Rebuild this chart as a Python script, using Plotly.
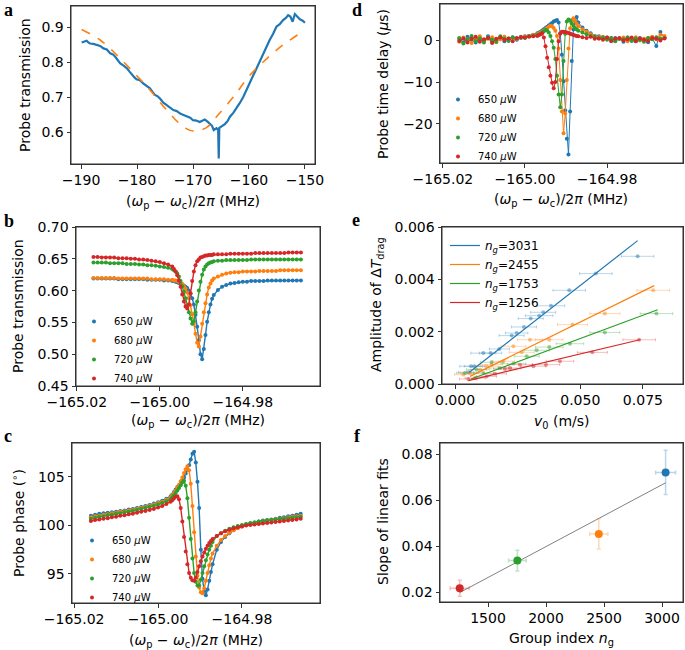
import plotly.graph_objects as go

W, H = 685, 650
FONT = "DejaVu Sans"
COLORS = ["#1f77b4", "#ff7f0e", "#2ca02c", "#d62728"]
POWERS = ["650", "680", "720", "740"]

# ---------------- panel a: wide scan
a_freq = [-189.9, -189.5, -189.0, -188.7, -188.4, -187.8, -187.2, -186.6, -186.0, -185.4,
          -184.8, -184.3, -183.9, -183.4, -183.0, -182.4, -181.8, -181.3, -180.9, -180.5,
          -180.1, -179.5, -178.9, -178.3, -177.7, -177.2, -176.8, -176.3, -175.9, -175.3,
          -174.7, -174.1, -173.5, -172.9, -172.3, -171.7, -171.1, -170.5, -170.0, -169.4,
          -168.8, -168.3, -167.9, -167.4, -167.0, -166.6, -166.3, -165.8, -165.5, -165.4,
          -165.3, -165.2, -164.8, -164.3, -163.8, -163.4, -162.8, -162.2, -161.6, -161.0,
          -160.4, -159.8, -159.2, -158.6, -158.0, -157.4, -156.8, -156.3, -155.7, -155.1,
          -154.5, -153.9, -153.4, -153.0, -152.6, -152.2, -151.8, -151.3, -150.9, -150.4, -150.0]
a_trans = [0.856, 0.859, 0.861, 0.856, 0.853, 0.852, 0.849, 0.846, 0.839, 0.836,
           0.825, 0.822, 0.815, 0.806, 0.796, 0.790, 0.782, 0.772, 0.763, 0.757,
           0.751, 0.748, 0.739, 0.733, 0.725, 0.714, 0.706, 0.702, 0.696, 0.684,
           0.677, 0.669, 0.663, 0.660, 0.653, 0.649, 0.644, 0.641, 0.634, 0.633,
           0.629, 0.632, 0.636, 0.630, 0.625, 0.618, 0.606, 0.611, 0.606, 0.525,
           0.612, 0.613, 0.617, 0.623, 0.632, 0.644, 0.655, 0.668, 0.684, 0.701,
           0.722, 0.744, 0.766, 0.787, 0.808, 0.829, 0.848, 0.863, 0.880, 0.901,
           0.908, 0.920, 0.926, 0.934, 0.930, 0.915, 0.937, 0.930, 0.922, 0.918, 0.912]
a_fit_freq = [-189.9, -186.6, -183.6, -180.7, -177.7, -174.7, -171.7, -169.9,
              -167.6, -165.8, -162.8, -159.8, -156.8, -153.9, -150.0]
a_fit = [0.893, 0.863, 0.820, 0.772, 0.720, 0.663, 0.615, 0.603,
         0.613, 0.644, 0.700, 0.763, 0.810, 0.849, 0.891]

# ---------------- panels b, c, d: narrow scans (MHz)
scan_freq = [-165.016, -165.015, -165.014, -165.013, -165.012, -165.011, -165.010, -165.009, -165.008, -165.007,
             -165.006, -165.005, -165.004, -165.003, -165.002, -165.001, -165.000, -164.999, -164.998, -164.997,
             -164.9966, -164.9962, -164.9958, -164.9954, -164.9950, -164.9946, -164.9942, -164.9938, -164.9934,
             -164.9930, -164.9926, -164.9922, -164.9918, -164.9914, -164.9910, -164.9906, -164.9902, -164.9898,
             -164.9894, -164.9890, -164.9886, -164.9882, -164.9878, -164.9874, -164.9870,
             -164.986, -164.985, -164.984, -164.983, -164.982, -164.981, -164.980, -164.979, -164.978, -164.977,
             -164.976, -164.975, -164.974, -164.973, -164.972, -164.971, -164.970, -164.969, -164.968, -164.967, -164.966]

trans_650 = [0.619, 0.619, 0.619, 0.619, 0.619, 0.619, 0.618, 0.618, 0.618, 0.618, 0.618, 0.618, 0.618, 0.617, 0.617, 0.617, 0.617, 0.616, 0.616, 0.615,
             0.615, 0.614, 0.613, 0.612, 0.611, 0.610, 0.608, 0.606, 0.604, 0.600, 0.595, 0.588, 0.578, 0.562, 0.543, 0.522, 0.500, 0.492, 0.508, 0.530, 0.551, 0.566, 0.578, 0.587, 0.593,
             0.601, 0.606, 0.609, 0.611, 0.612, 0.613, 0.614, 0.614, 0.615, 0.615, 0.615, 0.615, 0.616, 0.616, 0.616, 0.616, 0.616, 0.616, 0.616, 0.616, 0.616]
trans_680 = [0.620, 0.620, 0.620, 0.620, 0.620, 0.620, 0.619, 0.619, 0.619, 0.619, 0.619, 0.619, 0.619, 0.619, 0.618, 0.618, 0.618, 0.618, 0.617, 0.617,
             0.616, 0.616, 0.615, 0.614, 0.612, 0.610, 0.607, 0.603, 0.597, 0.588, 0.577, 0.563, 0.548, 0.532, 0.518, 0.512, 0.528, 0.548, 0.566, 0.580, 0.594, 0.605, 0.611, 0.616, 0.619,
             0.622, 0.625, 0.627, 0.628, 0.629, 0.629, 0.630, 0.630, 0.630, 0.630, 0.631, 0.631, 0.631, 0.631, 0.631, 0.632, 0.632, 0.632, 0.632, 0.632, 0.632]
trans_720 = [0.644, 0.644, 0.644, 0.644, 0.643, 0.643, 0.643, 0.643, 0.642, 0.642, 0.642, 0.641, 0.641, 0.640, 0.640, 0.639, 0.638, 0.637, 0.636, 0.634,
             0.632, 0.630, 0.627, 0.622, 0.615, 0.607, 0.598, 0.588, 0.577, 0.566, 0.556, 0.548, 0.552, 0.566, 0.583, 0.600, 0.614, 0.625, 0.633, 0.638, 0.641, 0.643, 0.644, 0.645, 0.646,
             0.647, 0.647, 0.648, 0.648, 0.648, 0.648, 0.648, 0.648, 0.649, 0.649, 0.649, 0.649, 0.649, 0.649, 0.649, 0.649, 0.649, 0.649, 0.649, 0.649, 0.649]
trans_740 = [0.653, 0.653, 0.652, 0.652, 0.652, 0.652, 0.651, 0.651, 0.651, 0.650, 0.650, 0.649, 0.649, 0.648, 0.647, 0.646, 0.645, 0.643, 0.641, 0.638,
             0.634, 0.630, 0.624, 0.616, 0.606, 0.594, 0.583, 0.575, 0.572, 0.578, 0.596, 0.615, 0.630, 0.640, 0.646, 0.649, 0.652, 0.653, 0.654, 0.655, 0.655, 0.656, 0.656, 0.656, 0.657,
             0.657, 0.657, 0.657, 0.658, 0.658, 0.658, 0.658, 0.658, 0.658, 0.659, 0.659, 0.659, 0.659, 0.659, 0.659, 0.659, 0.659, 0.660, 0.660, 0.660, 0.660]

phase_650 = [101.0, 101.1, 101.2, 101.25, 101.3, 101.35, 101.4, 101.5, 101.55, 101.65, 101.7, 101.8, 101.9, 102.0, 102.1, 102.25, 102.4, 102.55, 102.75, 103.0,
             103.2, 103.45, 103.7, 103.95, 104.1, 104.3, 104.6, 104.95, 105.35, 105.75, 106.2, 106.8, 107.4, 107.6, 106.5, 104.5, 101.8, 97.5, 94.5, 93.2, 92.8, 93.4, 94.3, 95.2, 96.0,
             97.5, 98.3, 98.8, 99.2, 99.5, 99.75, 99.95, 100.1, 100.2, 100.3, 100.4, 100.5, 100.55, 100.6, 100.7, 100.8, 100.85, 100.95, 101.0, 101.1, 101.2]
phase_680 = [100.85, 100.95, 101.0, 101.1, 101.15, 101.25, 101.3, 101.4, 101.45, 101.55, 101.6, 101.7, 101.8, 101.9, 102.0, 102.15, 102.3, 102.45, 102.65, 102.9,
             103.1, 103.35, 103.6, 103.9, 104.2, 104.55, 104.95, 105.4, 105.8, 106.1, 105.7, 104.3, 102.0, 99.3, 96.8, 94.8, 93.6, 93.1, 93.0, 93.5, 94.3, 95.1, 95.9, 96.6, 97.1,
             97.9, 98.5, 98.9, 99.25, 99.5, 99.7, 99.9, 100.05, 100.15, 100.25, 100.35, 100.45, 100.5, 100.55, 100.65, 100.7, 100.75, 100.85, 100.9, 100.95, 101.0]
phase_720 = [100.7, 100.8, 100.9, 100.95, 101.05, 101.1, 101.2, 101.25, 101.35, 101.4, 101.5, 101.6, 101.7, 101.8, 101.9, 102.0, 102.15, 102.3, 102.5, 102.7,
             102.9, 103.1, 103.35, 103.6, 103.85, 104.15, 104.45, 104.6, 104.1, 102.8, 100.8, 98.6, 96.6, 95.1, 94.2, 93.8, 93.8, 94.4, 95.1, 95.8, 96.4, 97.0, 97.5, 97.9, 98.3,
             98.9, 99.2, 99.45, 99.65, 99.8, 99.95, 100.05, 100.15, 100.25, 100.3, 100.4, 100.45, 100.5, 100.55, 100.6, 100.65, 100.7, 100.75, 100.8, 100.85, 100.9]
phase_740 = [100.45, 100.55, 100.6, 100.7, 100.75, 100.85, 100.9, 101.0, 101.05, 101.15, 101.2, 101.3, 101.4, 101.5, 101.6, 101.7, 101.85, 102.0, 102.2, 102.45,
             102.6, 102.8, 102.95, 103.0, 102.7, 101.8, 100.4, 98.8, 97.3, 96.0, 95.1, 94.6, 94.35, 94.3, 94.6, 95.2, 95.8, 96.3, 96.8, 97.2, 97.6, 97.9, 98.2, 98.4, 98.6,
             98.9, 99.2, 99.4, 99.55, 99.7, 99.8, 99.9, 100.0, 100.05, 100.1, 100.15, 100.2, 100.25, 100.3, 100.35, 100.4, 100.45, 100.5, 100.55, 100.6, 100.7]

delay_650 = [0.3, -0.5, 0.8, 0.1, -0.6, 0.5, -0.2, 0.9, -0.4, 0.2, 0.6, -0.3, 0.4, 0.7, 0.1, 0.5, 0.9, 1.0, 1.3, 1.6,
             1.8, 2.0, 2.3, 2.6, 2.9, 3.2, 3.5, 3.8, 4.1, 4.4, 4.6, 4.8, 4.2, 1.6, -3.5, -9.8, -16.7, -23.5, -27.3, -17.0, -5.0, 2.5, 4.6, 5.5, 4.2,
             3.0, 2.2, 1.6, 1.0, 0.9, 0.4, 0.6, -0.2, 0.5, 0.3, -0.4, 0.6, 0.1, -0.3, 0.5, 0.2, -0.5, 0.4, -1.4, 1.9, 0.6]
delay_680 = [-0.4, 0.6, 0.2, -0.7, 0.4, 0.9, -0.3, 0.3, 0.7, -0.5, 0.2, 0.8, 0.1, 0.5, 0.3, 0.6, 0.8, 1.0, 1.2, 1.4,
             1.6, 1.8, 2.0, 2.3, 2.6, 2.9, 3.2, 3.4, 3.3, 2.9, 2.2, 1.0, -2.0, -9.5, -17.0, -22.2, -17.5, -9.5, -2.0, 2.8, 4.8, 5.2, 4.6, 3.9, 3.3,
             2.6, 2.0, 1.4, 1.0, 0.7, 0.8, 0.3, 0.5, -0.2, 0.4, 0.6, -0.3, 0.2, 0.7, -0.1, 0.3, 0.5, 0.8, 0.2, 1.3, 1.0]
delay_720 = [0.5, -0.8, 0.2, 1.0, -0.3, 0.4, -0.6, 0.7, 0.1, -0.4, 0.9, 0.3, -0.2, 0.6, 0.4, 0.8, 0.5, 0.9, 1.0, 1.2,
             1.3, 1.5, 1.8, 2.1, 2.4, 2.3, 1.8, 1.0, -0.3, -1.8, -4.5, -8.5, -13.0, -16.0, -13.0, -5.0, 1.5, 4.4, 4.9, 4.6, 4.0, 3.4, 2.9, 2.5, 2.2,
             1.8, 1.4, 1.0, 0.8, 0.4, 0.6, 0.1, 0.5, -0.3, 0.3, 0.2, 0.6, -0.2, 0.4, 0.1, -0.4, 0.5, 0.2, 0.7, 0.3, 0.5]
delay_740 = [-0.2, 0.4, -0.6, 0.3, 0.8, -0.4, 0.2, 0.5, -0.7, 0.3, 0.6, 0.0, 0.4, -0.3, 0.5, 0.7, 0.6, 0.8, 0.9, 1.0,
             1.2, 1.4, 1.6, 0.6, -1.5, -4.2, -6.5, -8.5, -10.2, -11.5, -10.0, -4.5, -0.3, 1.5, 2.0, 2.0, 1.9, 1.8, 1.7, 1.5, 1.4, 1.2, 1.1, 1.0, 0.9,
             0.7, 0.5, 0.8, 0.3, 0.4, 0.1, 0.6, -0.2, 0.3, 0.5, -0.1, 0.2, 0.6, -0.3, 0.4, 0.1, -0.2, 0.5, 0.3, -0.1, 0.4]

# ---------------- panel e: drag amplitude vs velocity
e_ng = ["3031", "2455", "1753", "1256"]
e_v = [
    [0.0053, 0.0064, 0.0077, 0.0113, 0.0142, 0.0177, 0.0226, 0.0246, 0.0275, 0.0302, 0.0336, 0.0352, 0.0383, 0.0456, 0.0562, 0.0729],
    [0.0033, 0.0060, 0.0100, 0.0126, 0.0146, 0.0193, 0.0233, 0.0266, 0.0299, 0.0376, 0.0469, 0.0598, 0.0791],
    [0.0040, 0.0086, 0.0113, 0.0146, 0.0180, 0.0233, 0.0286, 0.0326, 0.0376, 0.0459, 0.0598, 0.0804],
    [0.0053, 0.0080, 0.0126, 0.0160, 0.0199, 0.0219, 0.0259, 0.0313, 0.0363, 0.0419, 0.0548, 0.0735],
]
e_amp = [
    [0.00045, 0.00068, 0.00068, 0.00118, 0.00118, 0.00134, 0.00185, 0.00195, 0.00218, 0.00250, 0.00261, 0.00274, 0.00299, 0.00358, 0.00422, 0.00488],
    [0.00036, 0.00042, 0.00055, 0.00068, 0.00074, 0.00087, 0.00144, 0.00121, 0.00169, 0.00169, 0.00227, 0.00269, 0.00358],
    [0.00042, 0.00055, 0.00042, 0.00083, 0.00061, 0.00078, 0.00106, 0.00129, 0.00141, 0.00154, 0.00197, 0.00269],
    [0.00019, 0.00023, 0.00029, 0.00039, 0.00057, 0.00061, 0.00074, 0.00068, 0.00074, 0.00087, 0.00121, 0.00169],
]
e_verr = [
    [0.0040, 0.0045, 0.0040, 0.0050, 0.0045, 0.0040, 0.0050, 0.0045, 0.0050, 0.0050, 0.0055, 0.0050, 0.0055, 0.0065, 0.0065, 0.0065],
    [0.0035, 0.0040, 0.0040, 0.0045, 0.0045, 0.0045, 0.0050, 0.0050, 0.0050, 0.0055, 0.0060, 0.0060, 0.0065],
    [0.0035, 0.0040, 0.0040, 0.0045, 0.0045, 0.0050, 0.0050, 0.0050, 0.0055, 0.0055, 0.0060, 0.0065],
    [0.0035, 0.0040, 0.0040, 0.0045, 0.0045, 0.0045, 0.0050, 0.0050, 0.0055, 0.0055, 0.0060, 0.0065],
]
e_fit_v = [[0.0057, 0.0729], [0.0060, 0.0795], [0.0064, 0.0809], [0.0053, 0.0738]]
e_fit_amp = [[0.00045, 0.00548], [0.00029, 0.00376], [0.00019, 0.00284], [0.00013, 0.00169]]

# ---------------- panel f: slopes vs group index
f_ng = [3031, 2455, 1753, 1256]
f_ng_err = [86, 78, 76, 82]
f_slope = [0.0720, 0.0453, 0.0337, 0.0217]
f_slope_err = [0.0096, 0.0066, 0.0045, 0.0035]
f_fit_ng = [1256, 3031]
f_fit_slope = [0.0198, 0.0675]

MINUS = "\u2212"
freq_ticks = [-165.02, -165.00, -164.98]
freq_ticktext = [MINUS + "165.02", MINUS + "165.00", MINUS + "164.98"]

# panel layout: pixel box (left, right, top, bottom), axis ranges and ticks
panel_cfg = {
    "": dict(box=(71, 315, 6, 164), xr=[-191.8, -148.2], yr=[0.509, 0.96],
             xt=[-190, -180, -170, -160, -150],
             xtt=[MINUS + "190", MINUS + "180", MINUS + "170", MINUS + "160", MINUS + "150"],
             yt=[0.6, 0.7, 0.8, 0.9], ytt=["0.6", "0.7", "0.8", "0.9"]),
    "2": dict(box=(76, 320, 227, 386), xr=[-165.0202, -164.9614], yr=[0.45, 0.70],
              xt=freq_ticks, xtt=freq_ticktext,
              yt=[0.45, 0.50, 0.55, 0.60, 0.65, 0.70], ytt=["0.45", "0.50", "0.55", "0.60", "0.65", "0.70"]),
    "3": dict(box=(72, 320, 443, 603), xr=[-165.0205, -164.9614], yr=[92.0, 108.5],
              xt=freq_ticks, xtt=freq_ticktext, yt=[95, 100, 105], ytt=["95", "100", "105"]),
    "4": dict(box=(440, 683, 4, 163), xr=[-165.0207, -164.9615], yr=[-29.3, 8.6],
              xt=freq_ticks, xtt=freq_ticktext, yt=[-20, -10, 0], ytt=[MINUS + "20", MINUS + "10", "0"]),
    "5": dict(box=(442, 683, 227, 384), xr=[-0.0052, 0.091], yr=[0, 0.006],
              xt=[0, 0.025, 0.05, 0.075], xtt=["0.000", "0.025", "0.050", "0.075"],
              yt=[0, 0.002, 0.004, 0.006], ytt=["0.000", "0.002", "0.004", "0.006"]),
    "6": dict(box=(440, 683, 443, 602), xr=[1086, 3181], yr=[0.0157, 0.0848],
              xt=[1500, 2000, 2500, 3000], xtt=["1500", "2000", "2500", "3000"],
              yt=[0.02, 0.04, 0.06, 0.08], ytt=["0.02", "0.04", "0.06", "0.08"]),
}
FRAME = "#333333"
TICK_PX = 3.5


def rgba(hex_color, alpha):
    h = hex_color.lstrip("#")
    return "rgba({},{},{},{})".format(int(h[0:2], 16), int(h[2:4], 16), int(h[4:6], 16), alpha)


fig = go.Figure()

# a
fig.add_trace(go.Scatter(x=a_freq, y=a_trans, mode="lines", line=dict(color=COLORS[0], width=2.2),
                         showlegend=False, xaxis="x", yaxis="y"))
fig.add_trace(go.Scatter(x=a_fit_freq, y=a_fit, mode="lines", line=dict(color=COLORS[1], width=1.6, dash="dash", shape="spline"),
                         showlegend=False, xaxis="x", yaxis="y"))

# b, c, d
panels = [("x2", "y2", "legend", [trans_650, trans_680, trans_720, trans_740], 1.4),
          ("x3", "y3", "legend2", [phase_650, phase_680, phase_720, phase_740], 1.4),
          ("x4", "y4", "legend3", [delay_650, delay_680, delay_720, delay_740], 1.0)]
for xa, ya, leg, series, lw in panels:
    for i, vals in enumerate(series):
        fig.add_trace(go.Scatter(x=scan_freq, y=vals, mode="lines", line=dict(color=COLORS[i], width=lw),
                                 showlegend=False, xaxis=xa, yaxis=ya))
        fig.add_trace(go.Scatter(x=scan_freq, y=vals, mode="markers", marker=dict(color=COLORS[i], size=4),
                                 name=POWERS[i] + " <i>\u03bc</i>W", legend=leg, xaxis=xa, yaxis=ya))

# e
for i in range(4):
    fig.add_trace(go.Scatter(x=e_v[i], y=e_amp[i], mode="markers",
                             marker=dict(color=rgba(COLORS[i], 0.5), size=4),
                             error_x=dict(type="data", array=e_verr[i], color=rgba(COLORS[i], 0.3), thickness=1, width=1.5),
                             showlegend=False, xaxis="x5", yaxis="y5"))
for i in range(4):
    fig.add_trace(go.Scatter(x=e_fit_v[i], y=e_fit_amp[i], mode="lines", line=dict(color=COLORS[i], width=1.2),
                             name="<i>n<sub>g</sub></i>=" + e_ng[i], legend="legend4", xaxis="x5", yaxis="y5"))

# f
fig.add_trace(go.Scatter(x=f_fit_ng, y=f_fit_slope, mode="lines", line=dict(color="gray", width=1),
                         showlegend=False, xaxis="x6", yaxis="y6"))
for i in range(4):
    fig.add_trace(go.Scatter(x=[f_ng[i]], y=[f_slope[i]], mode="markers", marker=dict(color=COLORS[i], size=8),
                             error_x=dict(type="data", array=[f_ng_err[i]], color=rgba(COLORS[i], 0.3), thickness=1.5, width=2),
                             error_y=dict(type="data", array=[f_slope_err[i]], color=rgba(COLORS[i], 0.3), thickness=1.5, width=2),
                             showlegend=False, xaxis="x6", yaxis="y6"))

# axes: tick labels from plotly; each panel's frame and tick marks drawn on its own axes
axes = {}
for k, cfg in panel_cfg.items():
    left, right, top, bottom = cfg["box"]
    common = dict(showline=True, linecolor=FRAME, linewidth=1, mirror=True, ticks="outside",
                  ticklen=TICK_PX, tickwidth=1, tickcolor=FRAME, showgrid=False, zeroline=False,
                  automargin=False, tickfont=dict(size=14, color="black", family=FONT))
    axes["xaxis" + k] = dict(domain=[left / W, right / W], anchor="y" + k, range=cfg["xr"],
                             tickvals=cfg["xt"], ticktext=cfg["xtt"], **common)
    axes["yaxis" + k] = dict(domain=[1 - bottom / H, 1 - top / H], anchor="x" + k, range=cfg["yr"],
                             tickvals=cfg["yt"], ticktext=cfg["ytt"], **common)
    xr, yr = cfg["xr"], cfg["yr"]
    dx = TICK_PX / (right - left) * (xr[1] - xr[0])
    dy = TICK_PX / (bottom - top) * (yr[1] - yr[0])
    fx = [xr[0], xr[1], xr[1], xr[0], xr[0], None]
    fy = [yr[0], yr[0], yr[1], yr[1], yr[0], None]
    for v in cfg["xt"]:
        fx += [v, v, None]
        fy += [yr[0], yr[0] - dy, None]
    for v in cfg["yt"]:
        fx += [xr[0], xr[0] - dx, None]
        fy += [v, v, None]
    fig.add_trace(go.Scatter(x=fx, y=fy, mode="lines", line=dict(color=FRAME, width=1), cliponaxis=False,
                             hoverinfo="skip", showlegend=False, xaxis="x" + k, yaxis="y" + k))


def leg_box(px_x, px_y, size):
    return dict(x=px_x / W, y=1 - px_y / H, xanchor="left", yanchor="top", bgcolor="rgba(0,0,0,0)",
                font=dict(size=size, family=FONT, color="black"), tracegroupgap=0)


def note(text, px_x, px_y, angle=0, size=14, xanchor="center", family=FONT):
    return dict(text=text, x=px_x / W, y=1 - px_y / H, xref="paper", yref="paper", showarrow=False,
                textangle=angle, xanchor=xanchor, yanchor="middle", font=dict(size=size, family=family, color="black"))


freq_title = "(<i>\u03c9</i><sub>p</sub> " + MINUS + " <i>\u03c9</i><sub>c</sub>)/2<i>\u03c0</i> (MHz)"
annotations = [
    note(freq_title, 193, 202),
    note(freq_title, 198, 421),
    note(freq_title, 196, 641),
    note(freq_title, 561, 200),
    note("<i>v</i><sub>0</sub> (m/s)", 562, 422),
    note("Group index <i>n</i><sub>g</sub>", 561, 639),
    note("Probe transmission", 25, 85, -90),
    note("Probe transmission", 18, 306, -90),
    note("Probe phase (<sup>\u2218</sup>)", 18, 523, -90),
    note("Probe time delay (<i>\u03bc</i>s)", 383, 84, -90),
    note("Amplitude of \u0394<i>T</i><sub>drag</sub>", 377, 305, -90),
    note("Slope of linear fits", 383, 522, -90),
]
for letter, lx, ly in [("a", 2, 10), ("b", 2, 221), ("c", 2, 436), ("d", 350, 10), ("e", 350, 220), ("f", 352, 436)]:
    annotations.append(note("<b>" + letter + "</b>", lx, ly, size=18, xanchor="left", family="Liberation Serif"))

fig.update_layout(
    template="simple_white",
    width=W, height=H, margin=dict(l=0, r=0, t=0, b=0, pad=0), autosize=False,
    paper_bgcolor="white", plot_bgcolor="white",
    font=dict(family=FONT, size=14, color="black"),
    legend=leg_box(74, 307, 10),
    legend2=leg_box(72, 526, 10),
    legend3=leg_box(438, 85, 10),
    legend4=leg_box(445, 231, 12),
    annotations=annotations,
    **axes,
)

# the page body keeps its default 8px margin otherwise
fig.write_html("out.html", config={"displayModeBar": False, "staticPlot": True},
               post_script="document.body.style.margin = '0';")
